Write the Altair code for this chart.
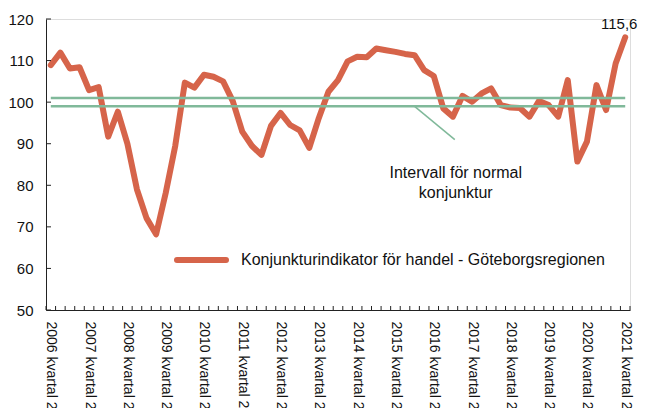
import altair as alt
import pandas as pd

# ---- data ----
years = list(range(2006, 2022))
values = [
    108.9, 111.9, 108.1, 108.4, 102.9, 103.6, 91.7, 97.7, 90.0, 79.0,
    72.1, 68.2, 78.1, 89.5, 104.7, 103.5, 106.6, 106.1, 105.0, 100.3,
    92.9, 89.5, 87.3, 94.3, 97.4, 94.5, 93.2, 89.0, 96.2, 102.5,
    105.3, 109.8, 110.9, 110.8, 112.9, 112.5, 112.1, 111.6, 111.3, 107.7,
    106.3, 98.5, 96.5, 101.5, 100.1, 102.1, 103.3, 99.3, 98.7, 98.6,
    96.5, 100.3, 99.3, 96.5, 105.3, 85.7, 90.5, 104.1, 98.1, 109.3,
    115.6,
]
normal_low = 99
normal_high = 101
series_name = "Konjunkturindikator för handel - Göteborgsregionen"
annotation_lines = ["Intervall för normal", "konjunktur"]
last_label = "115,6"

n = len(values)
tick_labels = [f"{y} kvartal 2" for y in years]

W, H = 584, 291
ORANGE = "#D6644A"
GREEN = "#80B99A"
FONT = "Liberation Sans"

df = pd.DataFrame({"i": list(range(n)), "v": values})
xscale = alt.Scale(domain=[-0.5, n - 0.5], nice=False, zero=False)
yscale = alt.Scale(domain=[50, 120], nice=False, zero=False)

label_expr = "[" + ",".join(f"'{t}'" for t in tick_labels) + "][round(datum.value/4)]"

xaxis = alt.Axis(
    values=list(range(0, n, 4)), labelExpr=label_expr, labelAngle=90,
    labelAlign="left", labelBaseline="middle", labelPadding=11,
    labelFontSize=14, labelFont=FONT, labelColor="#111", ticks=False,
    grid=False, domainColor="#222", title=None, labelOverlap=False,
    labelFlush=False, labelBound=False,
)
yaxis = alt.Axis(
    values=list(range(50, 121, 10)), labelFontSize=15, labelFont=FONT,
    labelColor="#111", ticks=False, grid=False, domainColor="#222",
    title=None, labelPadding=13,
)


def X(field):
    return alt.X(field, scale=xscale, axis=xaxis)


def Y(field):
    return alt.Y(field, scale=yscale, axis=yaxis)


line = alt.Chart(df).mark_line(color=ORANGE, strokeWidth=6, strokeCap="round",
                               strokeJoin="round").encode(
    x=X("i:Q"), y=Y("v:Q"),
)

band_df = pd.DataFrame({"lvl": [normal_low, normal_high], "x0": [0, 0], "x1": [n - 1, n - 1]})
bands = alt.Chart(band_df).mark_rule(color=GREEN, strokeWidth=2.5).encode(
    x=X("x0:Q"), x2="x1:Q", y=Y("lvl:Q")
)

leader_df = pd.DataFrame({"x": [38.0], "y": [normal_low], "x2": [42.2], "y2": [91.0]})
leader = alt.Chart(leader_df).mark_rule(color=GREEN, strokeWidth=1.5).encode(
    x=X("x:Q"), y=Y("y:Q"), x2="x2:Q", y2="y2:Q"
)

ann_df = pd.DataFrame({"x": [42.3], "y": [83.0], "t": [annotation_lines]})
ann = alt.Chart(ann_df).mark_text(fontSize=16, font=FONT, color="#111",
                                  align="center", baseline="middle",
                                  lineHeight=20).encode(
    x=X("x:Q"), y=Y("y:Q"), text="t"
)

last_df = pd.DataFrame({"i": [n - 1], "v": [values[-1]], "t": [last_label]})
last_txt = alt.Chart(last_df).mark_text(fontSize=15, font=FONT, color="#111",
                                        align="center", baseline="bottom",
                                        dx=-6, dy=-5).encode(
    x=X("i:Q"), y=Y("v:Q"), text="t"
)

# inner tick marks
xt_df = pd.DataFrame({"b": [k - 0.5 for k in range(n + 1)]})
xticks = alt.Chart(xt_df).mark_rule(color="#222", strokeWidth=1).encode(
    x=X("b:Q"), y=alt.value(H - 4), y2=alt.value(H)
)
yt_df = pd.DataFrame({"t": list(range(50, 121, 10))})
yticks = alt.Chart(yt_df).mark_rule(color="#222", strokeWidth=1).encode(
    y=Y("t:Q"), x=alt.value(0), x2=alt.value(5)
)

# legend drawn manually
leg_df = pd.DataFrame({"name": [series_name]})
leg_line = alt.Chart(leg_df).mark_rule(color=ORANGE, strokeWidth=6,
                                       strokeCap="round").encode(
    x=alt.value(131), x2=alt.value(180), y=alt.value(241)
)
leg_text = alt.Chart(leg_df).mark_text(fontSize=16, font=FONT, color="#111",
                                       align="left", baseline="middle").encode(
    x=alt.value(195), y=alt.value(241), text="name:N"
)

chart = alt.layer(
    line, bands, leader, xticks, yticks, ann, last_txt, leg_line, leg_text
).properties(
    width=W, height=H,
    autosize=alt.AutoSizeParams(type="none"),
    padding={"left": 38, "top": 11, "right": 9, "bottom": 98},
).configure_view(stroke=None).configure(background="white")

chart.save("out.html", embed_options={"renderer": "svg", "actions": False})
